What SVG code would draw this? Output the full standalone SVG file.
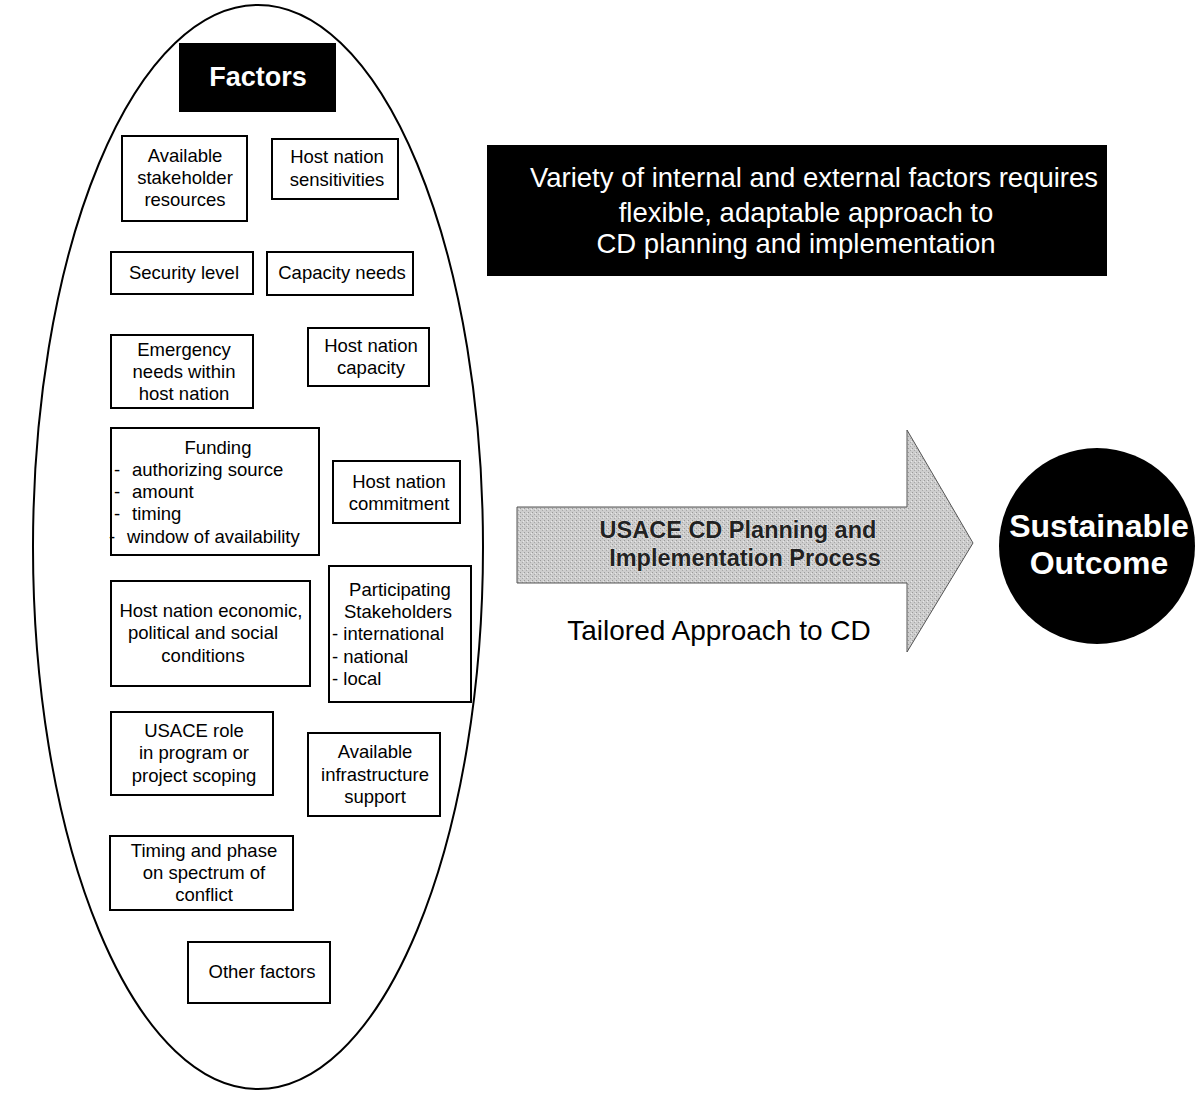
<svg xmlns="http://www.w3.org/2000/svg" width="1202" height="1093" viewBox="0 0 1202 1093">
<style>
.bx{fill:#fff;stroke:#000;stroke-width:2}
.t{font-family:"Liberation Sans",Arial,sans-serif;font-size:18.5px;fill:#000}
.c{text-anchor:middle}
.w{fill:#fff}
.b{font-weight:bold}
</style>
<defs>
<pattern id="stip" width="4" height="4" patternUnits="userSpaceOnUse">
<rect width="4" height="4" fill="#cdcdcd"/>
<rect x="0" y="0" width="1" height="1" fill="#9a9a9a"/>
<rect x="2" y="2" width="1" height="1" fill="#a8a8a8"/>
<rect x="3" y="1" width="1" height="1" fill="#e8e8e8"/>
</pattern>
</defs>
<rect width="1202" height="1093" fill="#fff"/>
<g id="ellipse"><ellipse cx="258" cy="547" rx="225" ry="542" fill="#fff" stroke="#000" stroke-width="2"/></g>
<g id="factors"><rect x="179" y="43" width="157" height="69" fill="#000"/><text class="t c w b" x="258" y="86" style="font-size:27px">Factors</text></g>
<g id="n1"><rect class="bx" x="122" y="136" width="125" height="85"/><text class="t c"><tspan x="185" y="162">Available</tspan><tspan x="185" y="184">stakeholder</tspan><tspan x="185" y="206">resources</tspan></text></g>
<g id="n2"><rect class="bx" x="272" y="139" width="126" height="60"/><text class="t c"><tspan x="337" y="163">Host nation</tspan><tspan x="337" y="186">sensitivities</tspan></text></g>
<g id="n3"><rect class="bx" x="111" y="252" width="142" height="42"/><text class="t c" x="184" y="279">Security level</text></g>
<g id="n4"><rect class="bx" x="267" y="252" width="146" height="43"/><text class="t c" x="342" y="279">Capacity needs</text></g>
<g id="n5"><rect class="bx" x="111" y="335" width="142" height="73"/><text class="t c"><tspan x="184" y="356">Emergency</tspan><tspan x="184" y="378">needs within</tspan><tspan x="184" y="400">host nation</tspan></text></g>
<g id="n6"><rect class="bx" x="308" y="328" width="121" height="58"/><text class="t c"><tspan x="371" y="352">Host nation</tspan><tspan x="371" y="374">capacity</tspan></text></g>
<g id="n7"><rect class="bx" x="111" y="428" width="208" height="127"/><text class="t"><tspan x="218" y="454" text-anchor="middle">Funding</tspan><tspan x="114" y="476">-</tspan><tspan x="132" y="476">authorizing source</tspan><tspan x="114" y="498">-</tspan><tspan x="132" y="498">amount</tspan><tspan x="114" y="520">-</tspan><tspan x="132" y="520">timing</tspan><tspan x="109" y="543">-</tspan><tspan x="127" y="543">window of availability</tspan></text></g>
<g id="n8"><rect class="bx" x="333" y="461" width="127" height="62"/><text class="t c"><tspan x="399" y="488">Host nation</tspan><tspan x="399" y="510">commitment</tspan></text></g>
<g id="n9"><rect class="bx" x="111" y="581" width="199" height="105"/><text class="t c"><tspan x="211" y="617">Host nation economic,</tspan><tspan x="203" y="639">political and social</tspan><tspan x="203" y="662">conditions</tspan></text></g>
<g id="n10"><rect class="bx" x="329" y="566" width="142" height="136"/><text class="t"><tspan x="400" y="596" text-anchor="middle">Participating</tspan><tspan x="398" y="618" text-anchor="middle">Stakeholders</tspan><tspan x="332" y="640">- international</tspan><tspan x="332" y="663">- national</tspan><tspan x="332" y="685">- local</tspan></text></g>
<g id="n11"><rect class="bx" x="111" y="712" width="162" height="83"/><text class="t c"><tspan x="194" y="737">USACE role</tspan><tspan x="194" y="759">in program or</tspan><tspan x="194" y="782">project scoping</tspan></text></g>
<g id="n12"><rect class="bx" x="308" y="733" width="132" height="83"/><text class="t c"><tspan x="375" y="758">Available</tspan><tspan x="375" y="781">infrastructure</tspan><tspan x="375" y="803">support</tspan></text></g>
<g id="n13"><rect class="bx" x="110" y="836" width="183" height="74"/><text class="t c"><tspan x="204" y="857">Timing and phase</tspan><tspan x="204" y="879">on spectrum of</tspan><tspan x="204" y="901">conflict</tspan></text></g>
<g id="n14"><rect class="bx" x="188" y="942" width="142" height="61"/><text class="t c" x="262" y="978">Other factors</text></g>
<g id="note"><rect x="487" y="145" width="620" height="131" fill="#000"/><text class="t c w" style="font-size:27.5px"><tspan x="814" y="187">Variety of internal and external factors requires</tspan><tspan x="806" y="222">flexible, adaptable approach to</tspan><tspan x="796" y="253">CD planning and implementation</tspan></text></g>
<g id="connectors"><path d="M517,507 L907,507 L907,430 L973,543 L907,652 L907,583 L517,583 Z" fill="url(#stip)" stroke="#555" stroke-width="1"/></g>
<g id="process"><text class="t c b" style="font-size:23.5px;fill:#222;stroke:#fff;stroke-width:0.6;paint-order:stroke"><tspan x="738" y="538">USACE CD Planning and</tspan><tspan x="745" y="566">Implementation Process</tspan></text></g>
<text class="t c" x="719" y="640" style="font-size:28px">Tailored Approach to CD</text>
<g id="outcome"><circle cx="1097" cy="546" r="98" fill="#000"/><text class="t c w b" style="font-size:32px"><tspan x="1099" y="537">Sustainable</tspan><tspan x="1099" y="574">Outcome</tspan></text></g>
</svg>
